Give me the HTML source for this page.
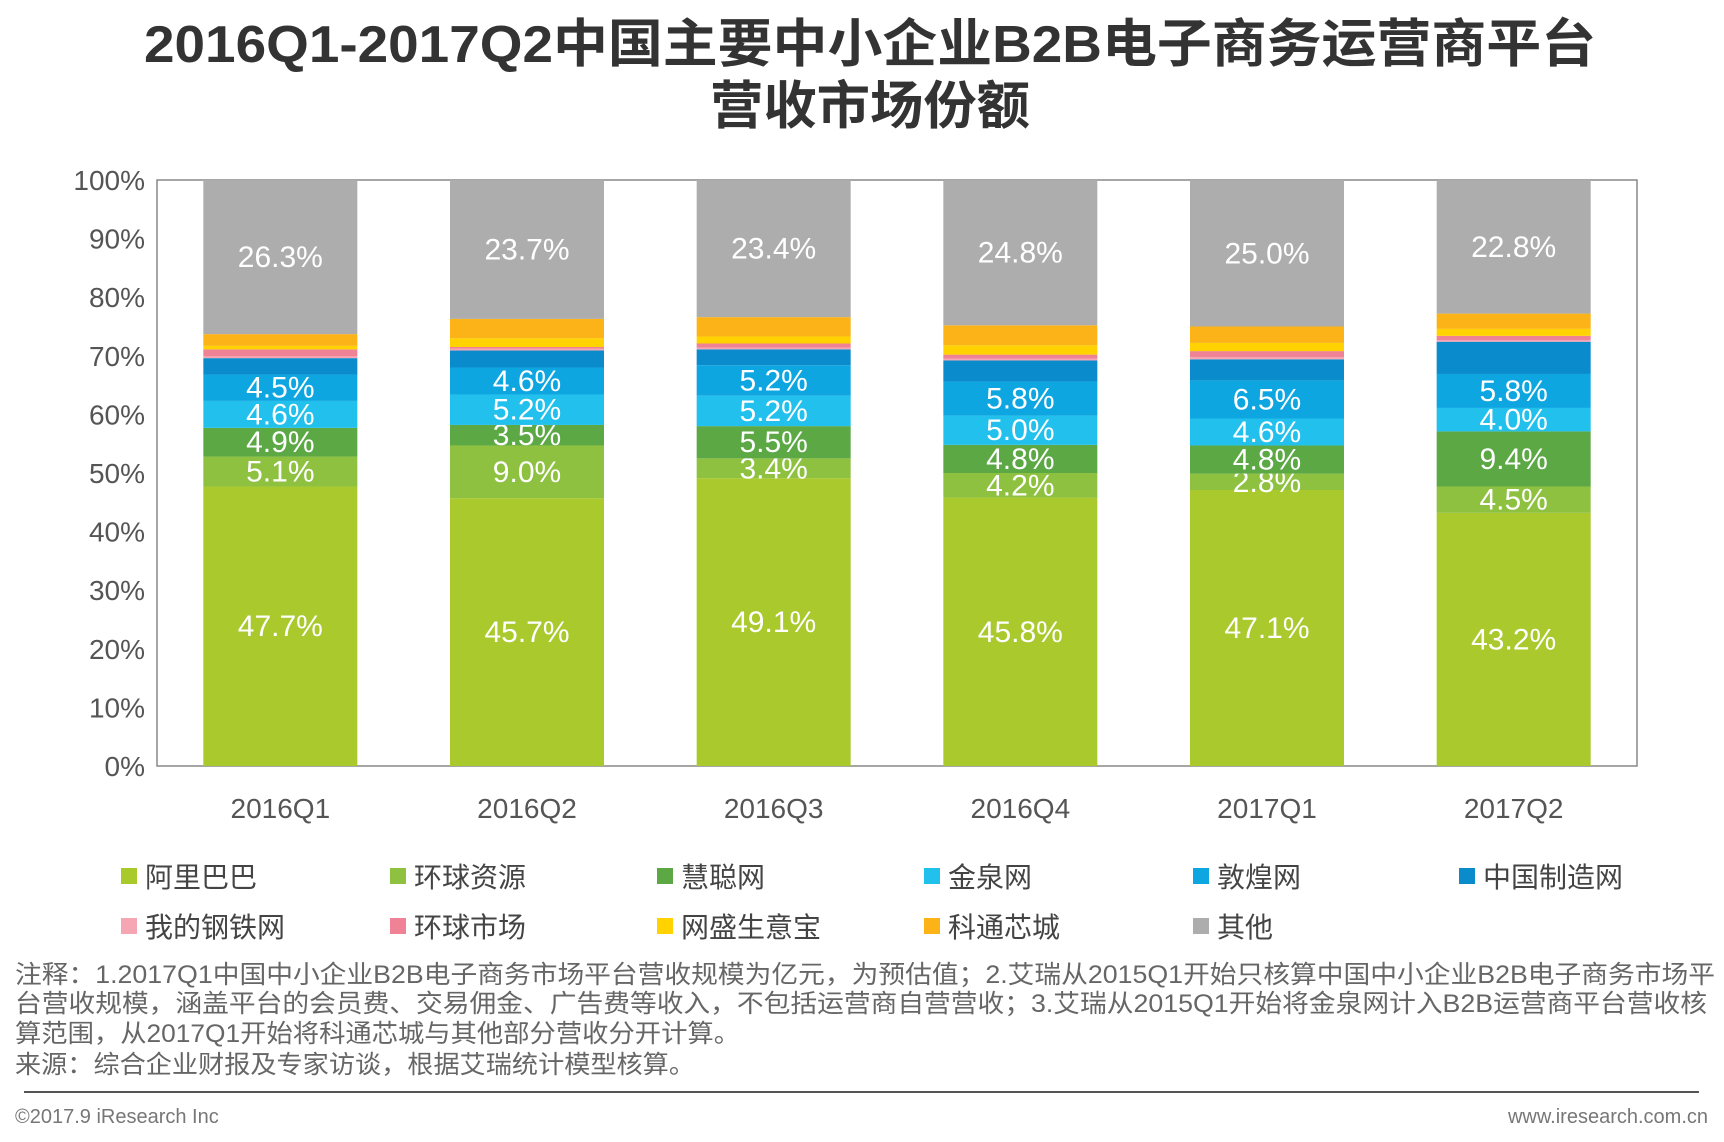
<!DOCTYPE html>
<html><head><meta charset="utf-8"><style>
html,body{margin:0;padding:0;background:#fff;}
svg{display:block;font-family:"Liberation Sans","Noto Sans CJK SC",sans-serif;}
</style></head><body>
<svg id="chart" width="1724" height="1142" viewBox="0 0 1724 1142" xmlns="http://www.w3.org/2000/svg">
<text x="870" y="62" text-anchor="middle" font-size="52" font-weight="bold" fill="#333" textLength="1452" lengthAdjust="spacingAndGlyphs">2016Q1-2017Q2中国主要中小企业B2B电子商务运营商平台</text>
<text x="870" y="124" text-anchor="middle" font-size="52" font-weight="bold" fill="#333" textLength="320" lengthAdjust="spacingAndGlyphs">营收市场份额</text>
<g id="plot"></g>
<g id="legend"></g>
<g font-size="25" fill="#666">
<text x="15" y="983" textLength="1700" lengthAdjust="spacingAndGlyphs">注释：1.2017Q1中国中小企业B2B电子商务市场平台营收规模为亿元，为预估值；2.艾瑞从2015Q1开始只核算中国中小企业B2B电子商务市场平</text>
<text x="15" y="1012" textLength="1692" lengthAdjust="spacingAndGlyphs">台营收规模，涵盖平台的会员费、交易佣金、广告费等收入，不包括运营商自营营收；3.艾瑞从2015Q1开始将金泉网计入B2B运营商平台营收核</text>
<text x="15" y="1042" textLength="725" lengthAdjust="spacingAndGlyphs">算范围，从2017Q1开始将科通芯城与其他部分营收分开计算。</text>
<text x="15" y="1073" textLength="680" lengthAdjust="spacingAndGlyphs">来源：综合企业财报及专家访谈，根据艾瑞统计模型核算。</text>
</g>
<line x1="24" y1="1092" x2="1699" y2="1092" stroke="#555" stroke-width="2"/>
<text x="15" y="1123" font-size="20" fill="#777">©2017.9 iResearch Inc</text>
<text x="1708" y="1123" font-size="20" fill="#777" text-anchor="end">www.iresearch.com.cn</text>
</svg>
<script>
const categories = ["2016Q1","2016Q2","2016Q3","2016Q4","2017Q1","2017Q2"];
const seriesNames = ["阿里巴巴","环球资源","慧聪网","金泉网","敦煌网","中国制造网","我的钢铁网","环球市场","网盛生意宝","科通芯城","其他"];
const alibaba   = [47.7,45.7,49.1,45.8,47.1,43.2];
const globalsrc = [5.1,9.0,3.4,4.2,2.8,4.5];
const hc360     = [4.9,3.5,5.5,4.8,4.8,9.4];
const jqw       = [4.6,5.2,5.2,5.0,4.6,4.0];
const dhgate    = [4.5,4.6,5.2,5.8,6.5,5.8];
const mic       = [2.8,2.9,2.7,3.6,3.6,5.5];
const mysteel   = [0.3,0.3,0.3,0.3,0.4,0.3];
const gmarket   = [1.2,0.3,0.7,0.7,1.0,0.7];
const toocle    = [0.6,1.5,1.2,1.6,1.4,1.2];
const cogobuy   = [2.0,3.3,3.3,3.4,2.8,2.6];
const others    = [26.3,23.7,23.4,24.8,25.0,22.8];
const labeled   = [true,true,true,true,true,false,false,false,false,false,true];
const yTicks = [0,10,20,30,40,50,60,70,80,90,100];
const series = [alibaba,globalsrc,hc360,jqw,dhgate,mic,mysteel,gmarket,toocle,cogobuy,others];
const colors = ["#a9c92d","#8dc13f","#5ba845","#22c0ec","#0ea6e1","#0a8bcb","#f6a6b3","#ef8294","#ffd200","#fbb317","#adadad"];
const NS="http://www.w3.org/2000/svg";
const L=157,R=1637,T=180,B=766;
const y=v=>B-(v/100)*(B-T);
const band=(R-L)/categories.length;
const x=i=>L+band*(i+0.5);
const bw=154;
function mk(tag,attrs,parent){const e=document.createElementNS(NS,tag);for(const k in attrs)e.setAttribute(k,attrs[k]);parent.appendChild(e);return e;}
const plot=document.getElementById('plot');
const frame=mk('rect',{x:L,y:T,width:R-L,height:B-T,fill:'none',stroke:'#888','stroke-width':1.5},plot);


yTicks.forEach(t=>{
  const tx=mk('text',{x:L-12,y:y(t)+10,'text-anchor':'end','font-size':28,fill:'#555'},plot);
  tx.textContent=t+'%';
  
  
});
categories.forEach((c,i)=>{
  let cum=0;
  series.forEach((s,j)=>{
    const v=s[i];
    const r=mk('rect',{x:x(i)-bw/2,y:y(cum+v),width:bw,height:y(cum)-y(cum+v),fill:colors[j]},plot);
    
    
    if(labeled[j]){
      const tx=mk('text',{x:x(i),y:(y(cum)+y(cum+v))/2+10,'text-anchor':'middle','font-size':30,fill:'#fff'},plot);
      tx.textContent=v.toFixed(1)+'%';
      
      
    }
    cum+=v;
  });
  const cl=mk('text',{x:x(i),y:818,'text-anchor':'middle','font-size':28,fill:'#555'},plot);
  cl.textContent=c;
  
  
});
const legend=document.getElementById('legend');
const lx=[121,390,657,924,1193,1459];
seriesNames.forEach((n,j)=>{
  const row=Math.floor(j/6),col=j%6;
  const yy=row?927:877;
  const g=mk('g',{},legend);
  
  
  mk('rect',{x:lx[col],y:yy-9,width:16,height:16,fill:colors[j]},g);
  const t=mk('text',{x:lx[col]+24,y:yy+10,'font-size':28,fill:'#444'},g);
  t.textContent=n;
});
</script>
</body></html>
